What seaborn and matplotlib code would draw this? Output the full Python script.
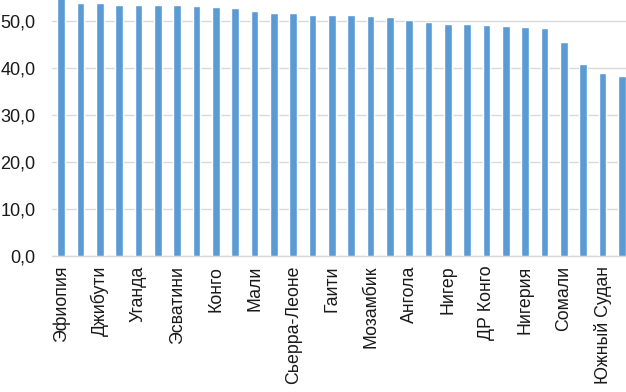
import matplotlib.pyplot as plt
import seaborn as sns
import pandas as pd

sns.set_style('white')
plt.rcParams['font.family'] = ['Liberation Sans', 'DejaVu Sans']

# values (30 bars, every second one labelled)
values = [55.0, 53.8, 53.75, 53.4, 53.4, 53.3, 53.3, 53.2, 52.9, 52.8,
          52.1, 51.7, 51.6, 51.3, 51.3, 51.3, 51.0, 50.85, 50.2, 49.8,
          49.4, 49.4, 49.2, 48.9, 48.8, 48.5, 45.5, 40.85, 38.9, 38.2]
shown_labels = ['Эфиопия', 'Джибути', 'Уганда', 'Эсватини', 'Конго', 'Мали',
                'Сьерра-Леоне', 'Гаити', 'Мозамбик', 'Ангола', 'Нигер',
                'ДР Конго', 'Нигерия', 'Сомали', 'Южный Судан']
yticks = [0, 10, 20, 30, 40, 50]

df = pd.DataFrame({'pos': list(range(len(values))), 'val': values})

fig = plt.figure(figsize=(6.26, 3.92), dpi=100)
ax = fig.add_axes([51.5 / 626, 136 / 392, 580 / 626, 256 / 392])

sns.barplot(data=df, x='pos', y='val', color='#5b9bd5', saturation=1,
            width=0.39, ax=ax, zorder=3)

ax.set_xlim(-0.5, len(values) - 0.5)
ax.set_ylim(0, 54.47)
ax.set_yticks(yticks)
ax.set_yticklabels([f'{v:.1f}'.replace('.', ',') for v in yticks],
                   fontsize=13, color='#1a1a1a')
ax.set_xticks(range(0, len(values), 2))
ax.set_xticklabels(shown_labels, rotation=90, fontsize=12.8, color='#1a1a1a')
ax.tick_params(axis='y', length=0, pad=11.5)
ax.tick_params(axis='x', length=0, pad=7)
ax.set_xlabel('')
ax.set_ylabel('')

ax.grid(axis='y', color='#d9d9d9', linewidth=1, zorder=0)
for s in ['top', 'right', 'left']:
    ax.spines[s].set_visible(False)
ax.spines['bottom'].set_color('#d9d9d9')
ax.spines['bottom'].set_linewidth(1)

fig.savefig('out.png', dpi=100)
